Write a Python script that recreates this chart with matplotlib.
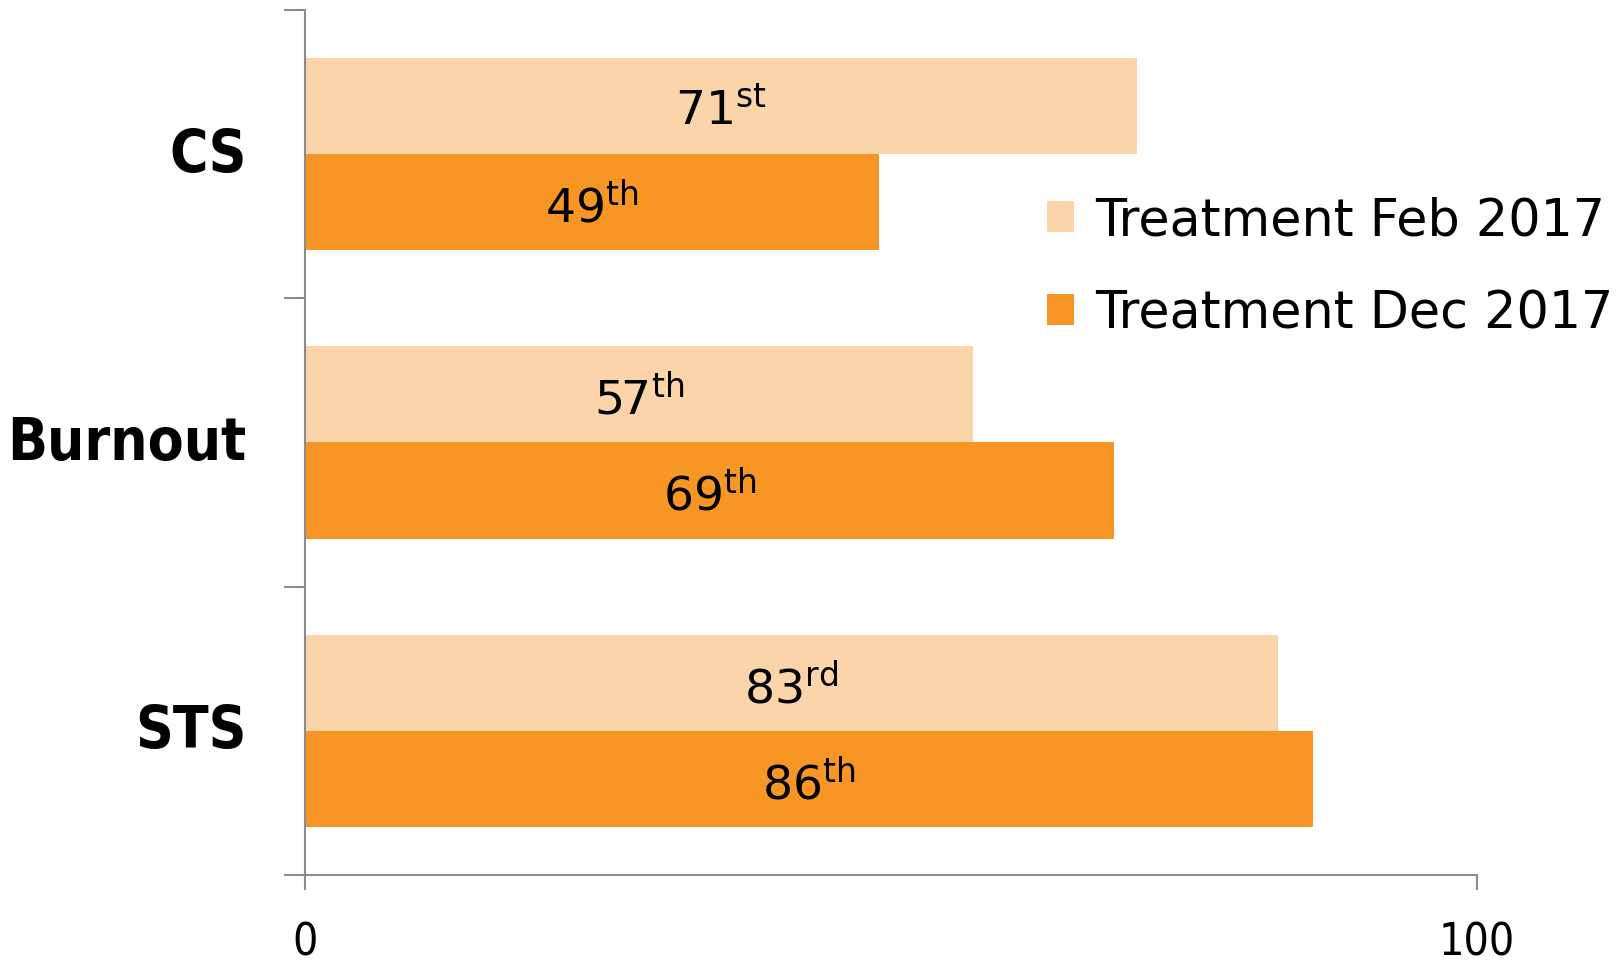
import matplotlib
matplotlib.use('Agg')
import matplotlib.pyplot as plt
import numpy as np

# data
categories = ['CS', 'Burnout', 'STS']
feb_2017 = [71, 57, 83]
dec_2017 = [49, 69, 86]
feb_suffix = ['st', 'th', 'rd']
dec_suffix = ['th', 'th', 'th']
series_names = ['Treatment Feb 2017', 'Treatment Dec 2017']
x_ticks = [0, 100]

light = '#FCD4A9'
dark = '#F79624'
axis_grey = '#8C8C8C'

plt.rcParams['font.family'] = ['DejaVu Sans']
plt.rcParams['mathtext.fontset'] = 'custom'
plt.rcParams['mathtext.rm'] = 'DejaVu Sans'

fig = plt.figure(figsize=(16.2, 9.62), dpi=100)
ax = fig.add_axes([0.1883, 0.0894, 0.7234, 0.8992])

y = np.arange(len(categories))
h = 1 / 3
b1 = ax.barh(y - h / 2, feb_2017, height=h, color=light, label=series_names[0])
b2 = ax.barh(y + h / 2, dec_2017, height=h, color=dark, label=series_names[1])

# value labels with ordinal suffixes
for bars, vals, sufs in [(b1, feb_2017, feb_suffix), (b2, dec_2017, dec_suffix)]:
    for bar, v, s in zip(bars, vals, sufs):
        cy = bar.get_y() + bar.get_height() / 2
        ax.text(v / 2, cy + 0.015, f'{v}$^{{\\mathrm{{{s}}}}}$', ha='center',
                va='center', fontsize=34, color='black')

ax.set_xlim(0, 100)
ax.set_ylim(len(categories) - 0.5, -0.5)
ax.set_xticks(x_ticks)
ax.set_xticklabels([str(t) for t in x_ticks], fontsize=32, fontstretch='condensed')

# category labels sit between the boundary ticks
ax.set_yticks(np.arange(len(categories) + 1) - 0.5)
ax.set_yticklabels([])
ax.set_yticks(y, minor=True)
ax.set_yticklabels(categories, minor=True, fontsize=42, fontweight='bold',
                   fontstretch='condensed', va='center')
ax.tick_params(axis='y', which='minor', length=0, pad=42)
ax.tick_params(axis='y', which='major', length=15, width=1.5, color=axis_grey, direction='out')
ax.tick_params(axis='x', length=11, width=1.5, color=axis_grey, pad=22)

for side in ['top', 'right']:
    ax.spines[side].set_visible(False)
for side in ['left', 'bottom']:
    ax.spines[side].set_color(axis_grey)
    ax.spines[side].set_linewidth(1.5)

leg = ax.legend(loc='upper left', bbox_to_anchor=(0.646, 0.796), bbox_transform=fig.transFigure,
                frameon=False, fontsize=36.5, handlelength=0.55, handleheight=0.55,
                handletextpad=0.4, labelspacing=0.85, borderaxespad=0, borderpad=0)

fig.savefig('out.png', dpi=100)
